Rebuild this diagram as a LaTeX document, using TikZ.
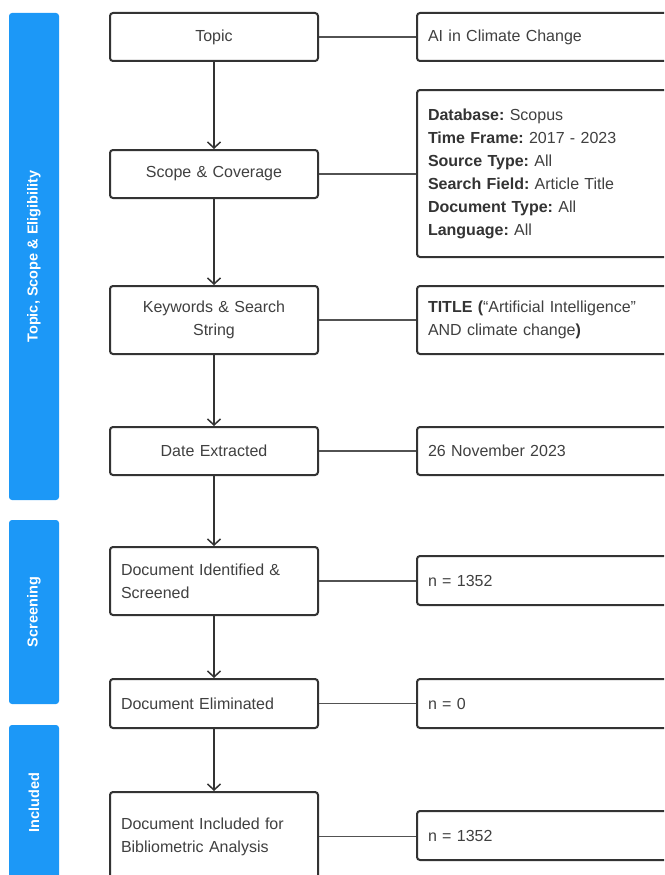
\documentclass[tikz,border=0pt]{standalone}
\usepackage{fontspec}
\setmainfont{Liberation Sans}
\frenchspacing
\usetikzlibrary{arrows.meta}
\definecolor{barblue}{HTML}{1C98F7}
\definecolor{boxline}{HTML}{333333}
\definecolor{boxtext}{HTML}{404040}
\newcommand{\fieldname}[1]{{\color{boxline}\bfseries #1}}
\tikzset{
  stepbox/.style={draw=boxline,line width=2pt,rounded corners=3pt,fill=white,text=boxtext,
    font=\fontsize{16}{23}\selectfont,text width=186pt,inner xsep=11pt,inner ysep=0pt,
    minimum height=48pt,align=center},
  leftstep/.style={stepbox,align=left},
  infobox/.style={stepbox,text width=240pt,align=left},
  phasebar/.style={fill=barblue,rounded corners=3pt,text=white,rotate=90,minimum height=50pt,
    inner sep=0pt,font=\fontsize{14.5}{17}\selectfont\bfseries},
  flow/.style={draw=boxline,line width=1.5pt,-{Straight Barb[length=6pt,width=13pt]}},
  link/.style={draw=boxline!85,line width=1.6pt}
}
\begin{document}
\begin{tikzpicture}[x=1pt,y=-1pt]
\clip (0,0) rectangle (664,875);
% phase bars
\node[phasebar,minimum width=487pt] (phaseA) at (34,256.5) {Topic, Scope \& Eligibility};
\node[phasebar,minimum width=184pt] (phaseB) at (34,612) {Screening};
\node[phasebar,minimum width=155pt] (phaseC) at (34,802.5) {Included};
% process steps
\node[stepbox] (topic) at (214,37) {Topic};
\node[stepbox] (scope) at (214,174) {Scope \& Coverage};
\node[stepbox,minimum height=68pt] (keywords) at (214,320) {Keywords \& Search\\String};
\node[stepbox] (date) at (214,451) {Date Extracted};
\node[leftstep,minimum height=68pt] (ident) at (214,581) {Document Identified \&\\Screened};
\node[leftstep,minimum height=49pt] (elim) at (214,703.5) {Document Eliminated};
\node[leftstep,minimum height=89pt] (incl) at (214,836.5) {Document Included for\\Bibliometric Analysis};
% details
\node[infobox] (topicinfo) at (548,37) {AI in Climate Change};
\node[infobox,minimum height=167pt] (scopeinfo) at (548,173.5) {\fieldname{Database:} Scopus\\
  \fieldname{Time Frame:} 2017 - 2023\\
  \fieldname{Source Type:} All\\
  \fieldname{Search Field:} Article Title\\
  \fieldname{Document Type:} All\\
  \fieldname{Language:} All};
\node[infobox,minimum height=68pt] (kwinfo) at (548,320) {\fieldname{TITLE (}“Artificial Intelligence”\\AND climate change\fieldname{)}};
\node[infobox] (dateinfo) at (548,451) {26 November 2023};
\node[infobox,minimum height=49pt] (identinfo) at (548,580.5) {n = 1352};
\node[infobox,minimum height=49pt] (eliminfo) at (548,703.5) {n = 0};
\node[infobox,minimum height=49pt] (inclinfo) at (548,835.5) {n = 1352};
% flow
\draw[flow] (topic.south) -- (scope.north);
\draw[flow] (scope.south) -- (keywords.north);
\draw[flow] (keywords.south) -- (date.north);
\draw[flow] (date.south) -- (ident.north);
\draw[flow] (ident.south) -- (elim.north);
\draw[flow] (elim.south) -- (incl.north);
% links to details
\draw[link] (topic.east) -- (topic.east -| topicinfo.west);
\draw[link] (scope.east) -- (scope.east -| scopeinfo.west);
\draw[link] (keywords.east) -- (keywords.east -| kwinfo.west);
\draw[link] (date.east) -- (date.east -| dateinfo.west);
\draw[link] (ident.east) -- (ident.east -| identinfo.west);
\draw[link] (elim.east) -- (elim.east -| eliminfo.west);
\draw[link] (incl.east) -- (incl.east -| inclinfo.west);
\end{tikzpicture}
\end{document}
